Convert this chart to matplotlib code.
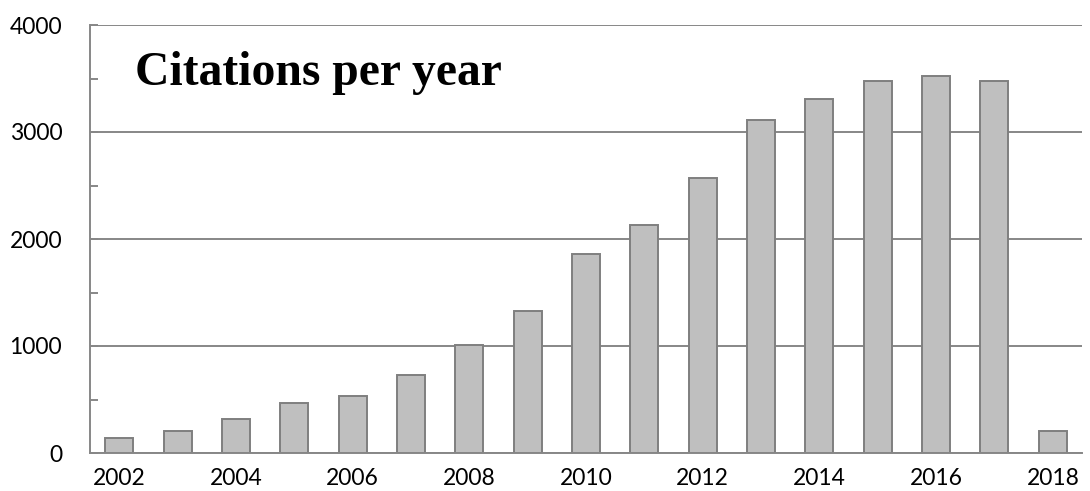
import matplotlib.pyplot as plt
import numpy as np

# data
years = [2002, 2003, 2004, 2005, 2006, 2007, 2008, 2009, 2010,
         2011, 2012, 2013, 2014, 2015, 2016, 2017, 2018]
citations = [140, 208, 318, 464, 530, 733, 1013, 1324, 1857,
             2135, 2574, 3110, 3305, 3473, 3526, 3473, 202]
y_ticks = [0, 1000, 2000, 3000, 4000]

grid_col = '#878787'

fig = plt.figure(figsize=(10.9, 4.91), dpi=100)
ax = fig.add_axes([90 / 1090, 1 - 453 / 491, 992 / 1090, 428 / 491])

x = np.arange(len(years))
ax.bar(x, citations, width=0.48, color='#bfbfbf', edgecolor='#7f7f7f',
       linewidth=1.4, zorder=3)

ax.set_xlim(-0.5, len(years) - 0.5)
ax.set_ylim(0, 4000)
ax.set_yticks(y_ticks)
ax.set_yticks(np.arange(500, 4000, 1000), minor=True)
ax.yaxis.grid(True, color=grid_col, linewidth=1.4, zorder=0)

ax.set_xticks(x[::2])
ax.set_xticklabels([str(y) for y in years[::2]])

for s in ['top', 'right']:
    ax.spines[s].set_visible(False)
for s in ['left', 'bottom']:
    ax.spines[s].set_color(grid_col)
    ax.spines[s].set_linewidth(1.4)
    ax.spines[s].set_zorder(4)

ax.tick_params(axis='y', which='both', direction='in', length=6,
               color=grid_col, width=1.4, pad=20)
ax.tick_params(axis='x', length=0, pad=11)
for lab in ax.get_xticklabels() + ax.get_yticklabels():
    lab.set_fontfamily('Lato')
    lab.set_fontsize(16.5)
    lab.set_color('black')

ax.text(0.045, 0.888, 'Citations per year', transform=ax.transAxes,
        fontfamily='Liberation Serif', fontweight='bold', fontsize=34.3,
        va='center', ha='left', zorder=5)

fig.savefig('out.png', dpi=100)
